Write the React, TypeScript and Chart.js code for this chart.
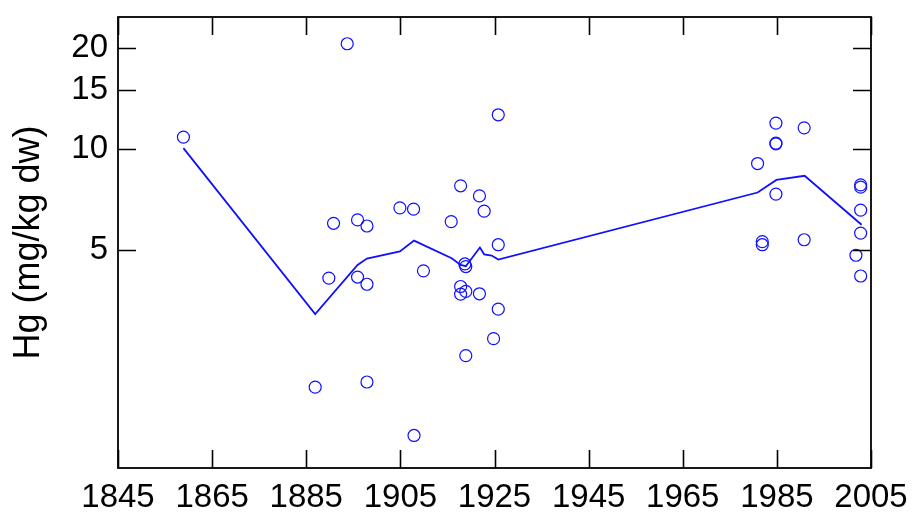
import React, { useEffect, useRef } from "react";
import { Chart, registerables } from "chart.js";

Chart.register(...registerables);

// Observed samples (year, Hg mg/kg dw)
const sampleYears = [
  1858.9, 1886.9, 1889.8, 1890.8, 1893.7, 1895.9, 1895.9, 1897.9, 1897.9, 1897.9,
  1904.9, 1907.8, 1907.9, 1909.9, 1915.8, 1917.8, 1917.8, 1917.8, 1918.9, 1918.9,
  1918.7, 1918.9, 1921.8, 1921.8, 1922.8, 1924.8, 1925.8, 1925.8, 1925.8,
  1980.9, 1981.9, 1981.9, 1984.8, 1984.8, 1984.8, 1984.8, 1990.8, 1990.8,
  2001.8, 2002.8, 2002.8, 2002.8, 2002.8, 2002.8,
];
const sampleValues = [
  10.84, 1.95, 4.12, 6.0, 20.56, 6.14, 4.15, 5.89, 3.95, 2.02,
  6.67, 6.61, 1.4, 4.33, 6.07, 7.76, 3.89, 3.69, 3.76, 4.46,
  4.54, 2.42, 7.24, 3.7, 6.52, 2.72, 12.63, 5.18, 3.33,
  9.04, 5.29, 5.18, 11.93, 10.4, 10.35, 7.33, 11.55, 5.36,
  4.82, 7.81, 7.69, 6.57, 5.61, 4.18,
];

// Trend line
const trendYears = [
  1858.9, 1886.9, 1895.9, 1897.9, 1904.9, 1907.9, 1915.9, 1917.8, 1918.9,
  1921.9, 1922.8, 1924.4, 1925.8, 1980.9, 1984.9, 1990.9, 2003.0,
];
const trendValues = [
  10.05, 3.22, 4.51, 4.71, 4.95, 5.33, 4.72, 4.51, 4.47,
  5.08, 4.85, 4.81, 4.68, 7.41, 8.08, 8.31, 5.94,
];

const xTickValues = [1845, 1865, 1885, 1905, 1925, 1945, 1965, 1985, 2005];
const yTickValues = [5, 10, 15, 20];

const X_MIN = 1845;
const X_MAX = 2005;
const Y_MIN = 1.12;
const Y_MAX = 24.7;

const FONT = "'Liberation Sans', Arial, Helvetica, sans-serif";
const BLUE = "#1010ff";

const frameTicks = {
  id: "frameTicks",
  afterDraw(chart: any) {
    const { ctx, chartArea: a, scales } = chart;
    const x = scales.x;
    const y = scales.y;
    const len = 18;
    ctx.save();
    ctx.strokeStyle = "#000";
    ctx.lineWidth = 1.6;
    ctx.beginPath();
    for (const v of xTickValues) {
      const px = Math.round(x.getPixelForValue(v)) + 0.5;
      ctx.moveTo(px, a.bottom);
      ctx.lineTo(px, a.bottom - len);
      ctx.moveTo(px, a.top);
      ctx.lineTo(px, a.top + len);
    }
    for (const v of yTickValues) {
      const py = Math.round(y.getPixelForValue(v)) + 0.5;
      ctx.moveTo(a.left, py);
      ctx.lineTo(a.left + len, py);
      ctx.moveTo(a.right, py);
      ctx.lineTo(a.right - len, py);
    }
    ctx.stroke();
    ctx.lineWidth = 1.8;
    ctx.strokeRect(a.left, a.top, a.right - a.left, a.bottom - a.top);
    ctx.restore();
  },
};

export default function App() {
  const ref = useRef<HTMLCanvasElement | null>(null);

  useEffect(() => {
    if (!ref.current) return;
    const chart = new Chart(ref.current, {
      type: "scatter",
      data: {
        datasets: [
          {
            type: "line",
            label: "trend",
            data: trendYears.map((yr, i) => ({ x: yr, y: trendValues[i] })),
            borderColor: BLUE,
            borderWidth: 1.8,
            pointRadius: 0,
            fill: false,
            tension: 0,
            order: 2,
          } as any,
          {
            type: "scatter",
            label: "samples",
            data: sampleYears.map((yr, i) => ({ x: yr, y: sampleValues[i] })),
            borderColor: BLUE,
            backgroundColor: "rgba(0,0,0,0)",
            borderWidth: 1.2,
            pointRadius: 6,
            pointStyle: "circle",
            order: 1,
          },
        ],
      },
      options: {
        responsive: false,
        animation: false,
        layout: { padding: { top: 17, right: 41, left: 0, bottom: 0 } },
        plugins: {
          legend: { display: false },
          tooltip: { enabled: false },
        },
        scales: {
          x: {
            type: "linear",
            min: X_MIN,
            max: X_MAX,
            afterBuildTicks: (s: any) => {
              s.ticks = xTickValues.map((v) => ({ value: v }));
            },
            afterFit: (s: any) => {
              s.height = 45;
              s.paddingLeft = 0;
              s.paddingRight = 0;
            },
            grid: { display: false, drawTicks: false },
            border: { display: false },
            ticks: {
              color: "#000",
              padding: 10,
              maxRotation: 0,
              autoSkip: false,
              font: { family: FONT, size: 33 },
              callback: (v: any) => String(v),
            },
          },
          y: {
            type: "logarithmic",
            min: Y_MIN,
            max: Y_MAX,
            afterBuildTicks: (s: any) => {
              s.ticks = yTickValues.map((v) => ({ value: v }));
            },
            afterFit: (s: any) => {
              s.width = 118;
              s.paddingTop = 0;
              s.paddingBottom = 0;
            },
            grid: { display: false, drawTicks: false },
            border: { display: false },
            ticks: {
              color: "#000",
              padding: 10,
              autoSkip: false,
              font: { family: FONT, size: 33 },
              callback: (v: any) => String(v),
            },
            title: {
              display: true,
              text: "Hg (mg/kg dw)",
              color: "#000",
              font: { family: FONT, size: 36 },
              padding: { top: 7, bottom: 0 },
            },
          },
        },
      },
      plugins: [frameTicks],
    });
    return () => chart.destroy();
  }, []);

  return (
    <div style={{ position: "fixed", left: 0, top: 0, width: 912, height: 513, background: "#fff" }}>
      <canvas ref={ref} width={912} height={513} />
    </div>
  );
}
